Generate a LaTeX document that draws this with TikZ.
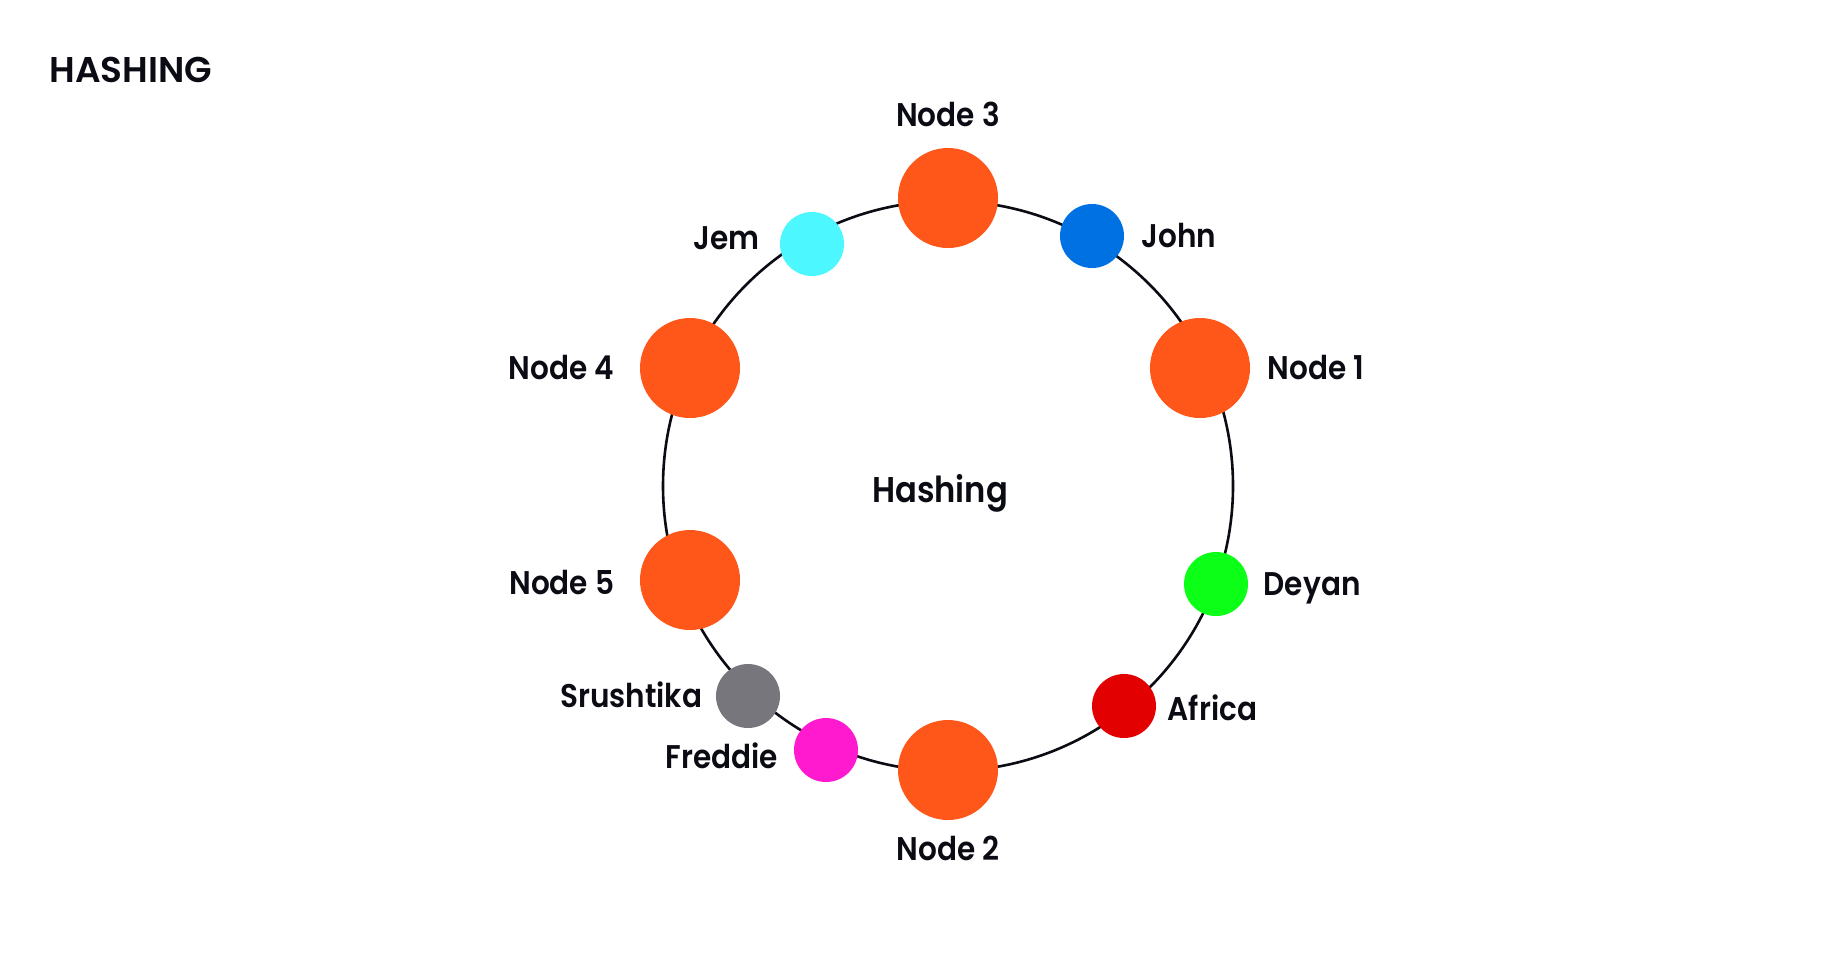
\documentclass[tikz,border=0pt]{standalone}
\usepackage{fontspec}
\setmainfont{Poppins}[BoldFont={Poppins SemiBold}]
\newfontfamily\narrowfont{Poppins SemiBold}[FakeStretch = 0.9]
\usetikzlibrary{positioning}

\definecolor{inkblack}{HTML}{0B0B14}
\definecolor{serverorange}{HTML}{FF5619}
\definecolor{jemcyan}{HTML}{4DF7FF}
\definecolor{johnblue}{HTML}{0071E3}
\definecolor{deyangreen}{HTML}{0CFF17}
\definecolor{africared}{HTML}{E30000}
\definecolor{srushgray}{HTML}{77767C}
\definecolor{fredpink}{HTML}{FF1ACF}

\begin{document}
\begin{tikzpicture}[x = 0.5pt, y = -0.5pt,
	server/.style = {circle, fill = serverorange, minimum size = 50pt, inner sep = 0pt},
	key/.style = {circle, minimum size = 32pt, inner sep = 0pt},
	lbl/.style = {inner sep = 0pt, text height = 11.5pt, text depth = 0pt, text = inkblack,
		font = \fontsize{16.4}{18}\narrowfont},
	bigtext/.style = {inner sep = 0pt, text height = 12.5pt, text depth = 0pt, text = inkblack,
		font = \fontsize{17.9}{20}\selectfont\bfseries}]

	\useasboundingbox (0, 0) rectangle (1840, 966);

	% Title

	\node [bigtext, anchor = west] (heading) at (49, 69.5) {HASHING};

	% Hash ring

	\coordinate (centre) at (948, 486);
	\draw [line width = 1.3pt, inkblack] (centre) circle [radius = 142.5pt];
	\node [bigtext, font = \fontsize{17.9}{20}\narrowfont] (ringname) at (940, 489.5) {Hashing};

	% Servers

	\node [server] (n1) at (1200, 368) {};
	\node [server] (n2) at (948, 770) {};
	\node [server] (n3) at (948, 198) {};
	\node [server] (n4) at (690, 368) {};
	\node [server] (n5) at (690, 580) {};

	\node [lbl, right = 8.5pt of n1] (n1lbl) {Node 1};
	\node [lbl, below = 8.5pt of n2] (n2lbl) {Node 2};
	\node [lbl, above = 10.5pt of n3] (n3lbl) {Node 3};
	\node [lbl, left = 12.5pt of n4] (n4lbl) {Node 4};
	\node [lbl, left = 12.5pt of n5, yshift = -1.5pt] (n5lbl) {Node 5};

	% Keys

	\node [key, fill = johnblue] (john) at (1092, 236) {};
	\node [key, fill = jemcyan] (jem) at (812, 244) {};
	\node [key, fill = deyangreen] (deyan) at (1216, 584) {};
	\node [key, fill = africared] (africa) at (1124, 706) {};
	\node [key, fill = srushgray] (srush) at (748, 696) {};
	\node [key, fill = fredpink] (fred) at (826, 750) {};

	\node [lbl, right = 8.5pt of john] (johnlbl) {John};
	\node [lbl, left = 10pt of jem, yshift = 3pt] (jemlbl) {Jem};
	\node [lbl, right = 7.5pt of deyan] (deyanlbl) {Deyan};
	\node [lbl, right = 5.5pt of africa, yshift = -1.5pt] (africalbl) {Africa};
	\node [lbl, left = 6.5pt of srush] (srushlbl) {Srushtika};
	\node [lbl, left = 7.5pt of fred, yshift = -3.5pt] (fredlbl) {Freddie};

\end{tikzpicture}
\end{document}
